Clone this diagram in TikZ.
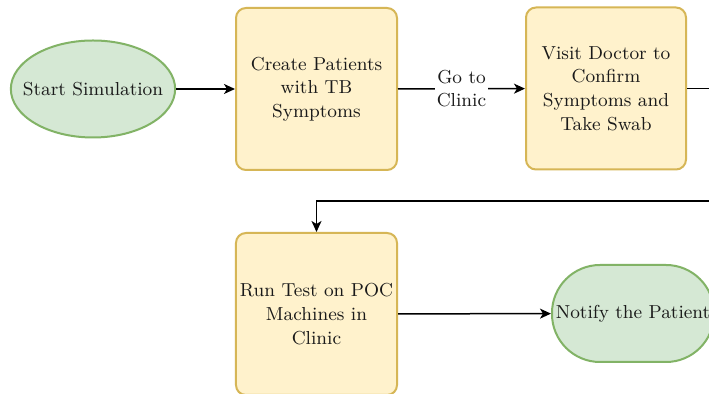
\documentclass[tikz,border=0pt]{standalone}
\usepackage{fontspec}
\usetikzlibrary{arrows.meta,shapes.geometric}
\definecolor{termfill}{HTML}{D5E8D4}
\definecolor{termline}{HTML}{82B366}
\definecolor{procfill}{HTML}{FFF2CC}
\definecolor{procline}{HTML}{D6B656}
\definecolor{inkcol}{HTML}{1A1A1A}

\begin{document}
\begin{tikzpicture}[x=0.5pt,y=-0.5pt,
  lbl/.style={font=\rmfamily\fontsize{9.4}{11.8}\selectfont, align=center, text=inkcol},
  terminal/.style={ellipse, draw=termline, fill=termfill, line width=1pt,
    minimum width=81pt, minimum height=48.5pt, inner xsep=-6pt, inner ysep=0pt, lbl},
  stadium/.style={rectangle, rounded corners=24pt, draw=termline, fill=termfill,
    line width=1pt, minimum width=81pt, minimum height=48.5pt, inner sep=0pt, lbl},
  process/.style={rectangle, rounded corners=5pt, draw=procline, fill=procfill,
    line width=1pt, minimum width=80.5pt, minimum height=81pt, inner sep=2pt, lbl},
  flow/.style={line width=0.75pt, draw=black,
    -{Stealth[length=5.5pt,width=5pt,inset=1.5pt]}}]

\useasboundingbox (0,0) rectangle (709,394);
\clip (0,0) rectangle (709,394);
\fill[white] (0,0) rectangle (709,394);

% nodes of the flow
\node[terminal] (start) at (93,89) {Start Simulation};
\node[process] (create) at (316.5,89) {Create Patients\\with TB\\Symptoms};
\node[process, minimum width=80pt] (visit) at (606,88.5) {Visit Doctor to\\Confirm\\Symptoms and\\Take Swab};
\node[process] (runtest) at (316.5,314) {Run Test on POC\\Machines in\\Clinic};
\node[stadium] (notify) at (633,313.5) {Notify the Patient};

% bend points of the return connector (outside the visible area)
\coordinate (turnA) at (760,88.5);
\coordinate (turnB) at (760,201);

% connectors
\draw[flow] (start) -- (create);
\draw[flow] (create) -- node[lbl, fill=white, inner sep=1pt] {Go to\\Clinic} (visit);
\draw[flow] (visit.east) -- (turnA) -- (turnB) -| (runtest.north);
\draw[flow] (runtest) -- (notify);
\end{tikzpicture}
\end{document}
